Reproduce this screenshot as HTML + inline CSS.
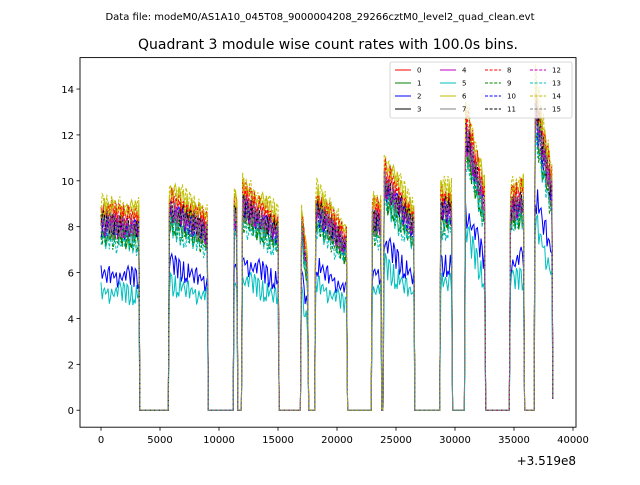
<!DOCTYPE html>
<html><head><meta charset="utf-8"><style>
body{margin:0;background:#fff;}
svg text{font-family:"DejaVu Sans","Liberation Sans",sans-serif;}
</style></head><body>
<svg id="chart" width="640" height="480" xmlns="http://www.w3.org/2000/svg">
<rect width="640" height="480" fill="#fff"/>
<text x="320" y="20" font-size="10" text-anchor="middle">Data file: modeM0/AS1A10_045T08_9000004208_29266cztM0_level2_quad_clean.evt</text>
<text x="328" y="49" font-size="14" text-anchor="middle">Quadrant 3 module wise count rates with 100.0s bins.</text>
<g id="plot"></g>
<rect x="80" y="57.6" width="496" height="369.6" fill="none" stroke="#000" stroke-width="0.9"/>
<g id="axes"></g>
<text x="576" y="465" font-size="12" text-anchor="end">+3.519e8</text>
<g id="legend"></g>
</svg>
<script>
const segStart=[0,5800,11300,12000,17000,18200,23000,24000,28800,30900,34700,36800];
const segEnd=[3200,9000,11500,15000,17500,20800,23700,26500,29700,32500,35800,38200];
const segLevelStart=[8.2,8.8,8.5,9.0,8.0,8.8,8.3,10.0,8.8,12.2,8.8,13.0];
const segLevelEnd=[8.0,7.8,8.5,7.8,6.0,7.2,8.3,8.0,8.8,9.0,9.2,9.5];
const channelFactor=[1.05,0.93,0.72,1.0,0.98,0.63,1.08,0.97,1.06,0.92,0.98,1.0,0.99,0.9,1.1,1.0];
const wiggle=[0.3,-0.4,0.5,-0.2,0.1,-0.6,0.4,0.2,-0.3,0.6,-0.1,-0.5,0.3,0.0,0.5,-0.4,0.2,-0.2,0.6,-0.6,0.1,0.4,-0.3,0.3,-0.5,0.2,0.0,0.5,-0.1,-0.4,0.4,-0.2,0.3,-0.6,0.1,0.5,-0.3];
const xTicks=[0,5000,10000,15000,20000,25000,30000,35000,40000];
const yTicks=[0,2,4,6,8,10,12,14];
const channels=["0","1","2","3","4","5","6","7","8","9","10","11","12","13","14","15"];
const colors=["#ff0000","#008000","#0000ff","#000000","#bf00bf","#00bfbf","#bfbf00","#808080"];

const L=80,R=576,T=57.6,B=427.2;
const xMin=-1780,xMax=40254,yMin=-0.74,yMax=15.37;
const X=v=>L+(v-xMin)/(xMax-xMin)*(R-L);
const Y=v=>B-(v-yMin)/(yMax-yMin)*(B-T);
const NS="http://www.w3.org/2000/svg";
function mk(tag,attrs,parent){const e=document.createElementNS(NS,tag);for(const k in attrs)e.setAttribute(k,attrs[k]);parent.appendChild(e);return e;}

const plot=document.getElementById('plot');
for(let c=0;c<16;c++){
  let pts=[];
  for(let i=0;i<=383;i++){
    const t=i*100;let v=0;
    for(let s=0;s<segStart.length;s++){
      if(t>=segStart[s]&&t<=segEnd[s]){
        const f=(segEnd[s]-segStart[s])?(t-segStart[s])/(segEnd[s]-segStart[s]):0;
        const lvl=segLevelStart[s]+(segLevelEnd[s]-segLevelStart[s])*f;
        v=lvl*channelFactor[c]+wiggle[(i*3+c*7)%wiggle.length]*lvl/10;
      }
    }
    if(t==38300)v=0.5;
    pts.push(X(t).toFixed(1)+","+Y(v).toFixed(1));
  }
  const p=mk('polyline',{points:pts.join(" "),fill:"none",stroke:colors[c%8],"stroke-width":1},plot);
  if(c>=8)p.setAttribute('stroke-dasharray','3,1.6');
  
  
}

const axes=document.getElementById('axes');
xTicks.forEach(v=>{
  const x=X(v);
  const l=mk('line',{x1:x,x2:x,y1:B,y2:B+3.5,stroke:"#000","stroke-width":0.8},axes);
  
  
  const t=mk('text',{x:x,y:B+16,"font-size":10,"text-anchor":"middle"},axes);
  t.textContent=v;
  
  
});
yTicks.forEach(v=>{
  const y=Y(v);
  const l=mk('line',{x1:L-3.5,x2:L,y1:y,y2:y,stroke:"#000","stroke-width":0.8},axes);
  
  
  const t=mk('text',{x:L-6,y:y+4,"font-size":10,"text-anchor":"end"},axes);
  t.textContent=v;
  
  
});

const lg=document.getElementById('legend');
mk('rect',{x:390,y:62,width:182,height:56,fill:"#fff","fill-opacity":0.8,stroke:"#ccc","stroke-width":0.8,rx:2},lg);
channels.forEach((name,c)=>{
  const col=Math.floor(c/4),row=c%4;
  const x=395+col*45,y=70+row*13;
  const l=mk('line',{x1:x,x2:x+16,y1:y,y2:y,stroke:colors[c%8],"stroke-width":1},lg);
  if(c>=8)l.setAttribute('stroke-dasharray','3,1.6');
  
  
  const t=mk('text',{x:x+22,y:y+2.5,"font-size":7},lg);
  t.textContent=name;
  
  
});
</script>
</body></html>
